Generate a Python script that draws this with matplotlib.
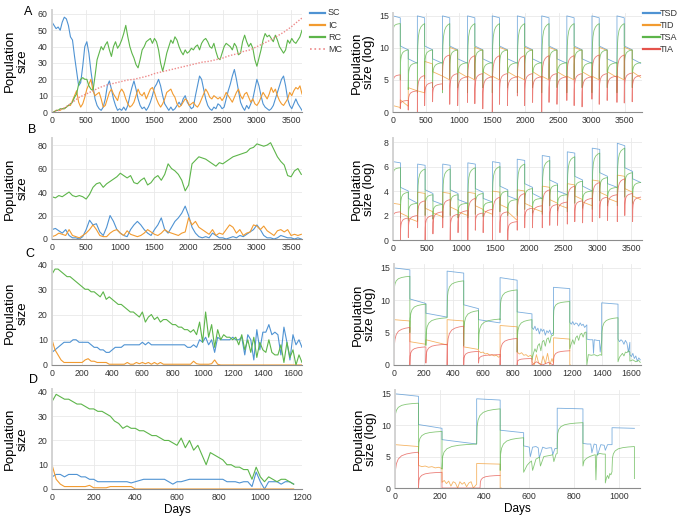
import matplotlib
matplotlib.use("Agg")
from matplotlib import pyplot as plt
from matplotlib.lines import Line2D
import numpy as np

plt.rcParams['font.family'] = ['Liberation Sans', 'DejaVu Sans']

BLUE = '#4f93d3'
ORANGE = '#f29b30'
GREEN = '#5db54a'
RED = '#e5534b'
MC_RED = '#ee8a8a'

# ---------------- left panels: population counts -------------
# panel A, one value every 30 days
A_STEP = 30
A_SC = [55, 53, 51, 52, 50, 55, 58, 57, 53, 46,
        44, 34, 25, 16, 18, 28, 40, 43, 36, 25,
        16, 8, 4, 2, 1, 3, 8, 16, 19, 14,
        8, 4, 1, 2, 1, 3, 1, 4, 10, 15,
        19, 14, 8, 4, 2, 3, 1, 3, 6, 10,
        15, 17, 20, 16, 10, 5, 3, 1, 3, 1,
        2, 4, 6, 4, 8, 10, 6, 4, 2, 3,
        10, 16, 22, 20, 14, 8, 4, 2, 1, 3,
        2, 5, 4, 2, 3, 8, 13, 17, 22, 26,
        20, 13, 6, 3, 1, 4, 2, 5, 8, 14,
        20, 16, 10, 5, 3, 2, 1, 2, 4, 8,
        12, 16, 20, 22, 16, 8, 4, 2, 5, 8,
        5, 3, 1]
A_IC = [0, 0, 1, 1, 1, 2, 2, 3, 4, 4,
        7, 10, 13, 6, 3, 5, 9, 14, 17, 20,
        13, 10, 11, 12, 8, 3, 4, 8, 12, 14,
        11, 9, 7, 12, 14, 12, 8, 5, 3, 4,
        6, 10, 14, 11, 10, 12, 8, 11, 14, 15,
        12, 8, 5, 3, 5, 8, 12, 13, 14, 11,
        9, 5, 3, 4, 6, 8, 7, 4, 5, 6,
        4, 3, 5, 8, 11, 14, 12, 9, 8, 10,
        9, 8, 9, 7, 9, 12, 10, 8, 6, 9,
        12, 14, 10, 8, 11, 12, 9, 6, 8, 5,
        4, 6, 9, 12, 10, 8, 11, 15, 12, 14,
        10, 7, 5, 4, 6, 8, 12, 10, 13, 15,
        14, 16, 11]
A_RC = [0, 0, 1, 1, 2, 2, 2, 3, 4, 5,
        6, 9, 11, 17, 20, 21, 20, 20, 16, 14,
        13, 22, 32, 36, 40, 38, 41, 43, 38, 34,
        40, 43, 39, 41, 44, 48, 53, 46, 40, 36,
        33, 29, 27, 32, 38, 40, 43, 44, 45, 42,
        45, 43, 38, 30, 25, 30, 36, 40, 44, 42,
        46, 44, 40, 37, 35, 38, 36, 37, 39, 38,
        40, 41, 38, 42, 44, 45, 43, 40, 39, 42,
        37, 33, 32, 36, 40, 42, 41, 40, 38, 42,
        40, 35, 36, 43, 47, 43, 40, 42, 39, 32,
        28, 33, 38, 44, 48, 46, 47, 45, 43, 47,
        44, 40, 38, 36, 38, 44, 42, 45, 43, 42,
        44, 46, 50]
A_MC_DAYS = [0, 100, 200, 300, 400, 500, 600, 700, 800, 900, 1000, 1100, 1200,
             1300, 1400, 1500, 1600, 1700, 1800, 1900, 2000, 2100, 2200, 2300,
             2400, 2500, 2600, 2700, 2800, 2900, 3000, 3100, 3200, 3300, 3400,
             3500, 3600, 3660]
A_MC = [0, 1, 3, 6, 9, 11, 13, 15, 16.5, 17.5, 18.5, 19.5, 20, 21, 22, 23.5,
        24.5, 25.5, 26.5, 27.5, 28.5, 29.5, 30.5, 31, 32, 33, 34.5, 35.5, 37,
        38, 40, 42, 44, 46.5, 49, 52, 55.5, 57.5]

# panel B, one value every 50 days
B_STEP = 50
B_SC = [8, 9, 7, 5, 8, 3, 1, 1, 0, 2,
        8, 16, 12, 13, 6, 3, 10, 20, 15, 8,
        5, 3, 2, 8, 12, 15, 12, 8, 5, 3,
        8, 12, 18, 8, 5, 10, 15, 18, 22, 28,
        20, 10, 5, 2, 1, 2, 1, 5, 3, 1,
        1, 0, 1, 2, 1, 3, 2, 4, 6, 8,
        12, 8, 3, 1, 1, 0, 1, 3, 2, 1,
        1, 0, 1, 0]
B_IC = [2, 3, 5, 4, 3, 8, 3, 2, 1, 3,
        5, 8, 12, 8, 3, 2, 2, 5, 7, 8,
        5, 3, 7, 4, 3, 2, 3, 5, 8, 6,
        4, 3, 5, 8, 6, 5, 4, 3, 5, 6,
        18, 12, 15, 10, 8, 6, 4, 8, 3, 5,
        4, 8, 12, 10, 5, 8, 3, 5, 6, 12,
        11, 8, 11, 7, 5, 3, 7, 8, 6, 8,
        3, 4, 3, 4]
B_RC = [36, 35, 37, 36, 38, 40, 37, 36, 37, 36,
        34, 38, 44, 47, 48, 44, 47, 49, 51, 53,
        56, 54, 52, 54, 48, 47, 50, 52, 46, 48,
        52, 54, 50, 55, 64, 60, 58, 55, 50, 41,
        46, 64, 67, 70, 69, 68, 66, 64, 62, 65,
        64, 66, 68, 70, 71, 72, 73, 74, 77, 78,
        81, 80, 79, 80, 82, 76, 70, 66, 63, 54,
        53, 58, 60, 55]

# panels C and D, one value every 20 days
CD_STEP = 20
C_SC = [5, 6, 7, 8, 9, 9, 9, 10, 10, 9,
        9, 9, 9, 8, 7, 7, 6, 6, 5, 5,
        6, 7, 7, 7, 8, 8, 8, 8, 8, 8,
        9, 8, 9, 8, 8, 8, 8, 8, 8, 8,
        8, 8, 8, 8, 8, 7, 7, 8, 7, 10,
        9, 11, 8, 10, 5, 11, 10, 10, 10, 10,
        11, 10, 10, 11, 4, 12, 10, 2, 14, 6,
        13, 13, 16, 12, 13, 12, 4, 15, 9, 2,
        12, 8, 10, 7]
C_IC = [10, 6, 4, 2, 1, 1, 1, 1, 1, 1,
        1, 2, 2.5, 1.5, 1.5, 1, 1, 1, 1, 0.3,
        0.3, 0.3, 0.3, 0.3, 0.3, 1, 0.3, 0.3, 1, 0.5,
        1, 0.5, 1, 0.3, 1, 0.3, 1, 0.3, 0.3, 0.3,
        0.3, 0.3, 0.3, 0.3, 0.3, 0.3, 0.3, 1.5, 0.5, 0.3,
        0.3, 0.3, 0.3, 0.5, 2, 0.3, 0, 0, 0, 0,
        0, 0, 0, 0, 0, 0, 0, 0, 0, 0,
        0, 0, 0, 0, 0, 0, 0, 0, 0, 0,
        0, 0, 0, 0]
C_RC = [36, 38, 38, 37, 36, 35, 35, 34, 33, 32,
        31, 30, 30, 29, 29, 28, 27, 29, 26, 27,
        26, 25, 24, 24, 23, 22, 21, 21, 20, 19,
        21, 17, 19, 20, 18, 19, 17, 18, 18, 17,
        16, 16, 15, 15, 14, 14, 13, 14, 12, 17,
        9, 21, 11, 16, 7, 14, 10, 12, 11, 11,
        10, 11, 8, 12, 6, 10, 5, 11, 3, 9,
        6, 5, 10, 5, 4, 4, 8, 1, 9, 3,
        6, 0, 4, 1]
D_SC = [5, 6, 6, 5, 6, 6, 6, 5, 5, 4,
        4, 3, 3, 3, 3, 3, 3, 3, 3, 2.5,
        3, 3.5, 4, 4, 4, 4, 4, 4, 3, 2,
        3, 3, 3.5, 4, 4, 4, 4, 4, 4, 4,
        4, 4, 3, 3, 3, 2.5, 3, 3, 1, 7,
        3, 0, 3, 3, 3, 2, 3, 3, 2]
D_IC = [10, 4, 2, 1, 1, 1, 1, 1, 1, 1.5,
        0.5, 0.5, 0.5, 0.5, 1, 1, 1, 1, 1, 1,
        0, 0, 0, 0, 0, 0, 0, 0, 0, 0,
        0, 0, 0, 0, 0, 0, 0, 0, 0, 0,
        0, 0, 0, 0, 0, 0, 0, 0, 0, 0,
        0, 0, 0, 0, 0, 0, 0, 0, 0]
D_RC = [36, 39, 38, 37, 37, 36, 35, 35, 34, 33,
        33, 32, 32, 31, 30, 28, 27, 25, 26, 25,
        25, 24, 24, 23, 22, 22, 21, 20, 20, 19,
        18, 21, 17, 20, 16, 18, 14, 10, 15, 14,
        13, 12, 10, 10, 9, 9, 8, 8, 4, 9,
        5, 3, 5, 4, 3, 4, 4, 3, 2]

# ---------------- right panels: log population sizes -------------------------------
# growth curve shape seen in the picture (fraction of the segment, fraction of the rise)
GROW_T = [0, 0.02, 0.06, 0.14, 0.28, 0.48, 0.72, 1.0]
GROW_F = [0, 0.5, 0.68, 0.81, 0.9, 0.95, 0.98, 1.0]

# A and B: ten yearly cycles, three phases each; rows = (start, end) value per phase
A_STARTS = [0, 368, 747, 1126, 1499, 1878, 2246, 2625, 3004, 3382]
A_END = 3740
A_SPLIT = [110, 230]
A_TSD = [[15.0, 14.7, 10.3, 9.7, 8.3, 7.6]] * 10
A_TSA = [[11.5, 13.8, 5.0, 9.7, 3.5, 7.7]] + [[3.0, 13.8, 5.2, 9.7, 3.8, 7.7]] * 9
A_TID = [[1.0, 0.7, 1.9, 0.9, 3.8, 3.3],
         [3.3, 3.0, 7.9, 7.5, 6.3, 5.6]] + [[5.6, 5.0, 10.1, 9.6, 6.3, 5.4]] * 8
A_TIA = [[3.5, 5.8, 0.5, 1.8, 0.3, 3.3],
         [0.0, 5.7, 1.0, 4.6, 1.6, 4.4],
         [3.5, 8.9, 1.2, 6.0, 1.0, 5.5],
         [1.5, 8.8, 1.3, 6.0, 0.5, 5.5],
         [0.0, 8.8, 1.2, 6.0, 1.0, 5.5],
         [2.5, 8.8, 1.0, 6.0, 1.5, 5.5],
         [0.0, 8.8, 1.5, 6.0, 1.2, 5.5],
         [1.8, 8.8, 1.0, 6.0, 0.8, 5.5],
         [2.0, 8.9, 1.2, 6.0, 1.8, 5.6],
         [1.5, 8.9, 1.4, 6.1, 1.6, 5.7]]

B_STARTS = [0, 362, 731, 1100, 1462, 1826, 2194, 2562, 2929, 3297]
B_END = 3640
B_SPLIT = [110, 225]
B_TSD = [[6.4, 6.3, 4.3, 4.0, 3.4, 3.0],
         [6.2, 6.1, 4.1, 3.8, 3.2, 2.9],
         [6.2, 6.1, 4.1, 3.8, 3.3, 3.0],
         [6.3, 6.2, 4.2, 3.9, 3.4, 3.1],
         [6.4, 6.3, 4.4, 4.1, 3.6, 3.3],
         [6.6, 6.5, 4.6, 4.3, 3.8, 3.4],
         [6.9, 6.8, 4.9, 4.6, 4.0, 3.7],
         [7.2, 7.1, 5.2, 4.9, 4.4, 4.0],
         [7.5, 7.4, 5.5, 5.2, 4.6, 4.3],
         [7.9, 7.7, 5.9, 5.6, 5.0, 4.7]]
B_TSA = [[4.8, 5.9, 1.8, 3.9, 1.6, 3.0],
         [1.6, 5.8, 2.0, 3.7, 1.7, 2.9],
         [1.8, 5.8, 2.0, 3.7, 1.8, 3.0],
         [1.8, 5.9, 2.1, 3.8, 1.9, 3.1],
         [1.9, 6.0, 2.3, 4.0, 2.0, 3.3],
         [2.0, 6.2, 2.5, 4.2, 2.2, 3.4],
         [2.1, 6.5, 2.8, 4.5, 2.4, 3.7],
         [2.3, 6.8, 3.0, 4.8, 2.6, 4.0],
         [2.5, 7.1, 3.2, 5.1, 2.8, 4.3],
         [2.8, 7.5, 3.5, 5.5, 3.0, 4.7]]
B_TID = [[3.0, 2.9, 2.2, 1.9, 1.8, 1.5],
         [3.9, 3.8, 2.6, 2.3, 2.2, 1.9],
         [3.9, 3.8, 2.7, 2.4, 2.3, 2.0],
         [3.9, 3.8, 2.8, 2.5, 2.4, 2.1],
         [4.0, 3.9, 2.9, 2.6, 2.3, 1.6],
         [4.1, 4.0, 3.0, 2.7, 2.6, 2.3],
         [4.4, 4.3, 3.3, 3.0, 2.9, 2.6],
         [4.6, 4.5, 3.6, 3.3, 3.1, 2.8],
         [4.9, 4.8, 3.9, 3.6, 3.4, 3.1],
         [5.3, 5.2, 4.2, 3.9, 3.6, 3.3]]
B_TIA = [[1.5, 2.3, 0.0, 1.8, 0.2, 2.0],
         [1.0, 3.2, 0.0, 2.0, 0.5, 2.3],
         [1.0, 3.3, 0.0, 2.1, 0.6, 2.4],
         [0.0, 3.4, 0.8, 2.2, 0.6, 2.5],
         [0.0, 3.5, 0.6, 2.3, 0.0, 1.5],
         [0.8, 3.8, 1.0, 2.6, 1.0, 2.8],
         [1.0, 4.1, 1.2, 2.9, 1.2, 3.1],
         [1.3, 4.4, 1.5, 3.2, 1.4, 3.4],
         [1.5, 4.7, 1.8, 3.5, 1.6, 3.7],
         [1.5, 5.0, 2.0, 3.8, 1.5, 3.5]]

# C and D: irregular phases. 'L' straight, 'G' growth curve, 'P' explicit points
C_TSD = [('L', 0, 107, 15.0, 14.7), ('L', 107, 215, 10.2, 9.5), ('L', 215, 358, 8.0, 7.4),
         ('L', 358, 470, 14.5, 14.2), ('L', 470, 570, 9.3, 8.7), ('L', 570, 715, 7.0, 6.5),
         ('L', 715, 830, 13.5, 13.1), ('L', 830, 930, 8.2, 7.9),
         ('P', [930, 940, 950, 960, 970, 980, 990, 1000, 1010, 1020, 1030, 1040, 1050, 1060, 1075],
               [5.8, 5.5, 6.0, 5.3, 5.7, 4.8, 5.6, 5.2, 5.5, 4.6, 5.3, 5.0, 5.4, 4.7, 5.0]),
         ('L', 1075, 1185, 12.0, 11.8),
         ('P', [1185, 1195, 1205, 1215, 1225, 1235, 1245, 1255, 1265, 1275, 1285, 1300],
               [6.6, 6.3, 6.7, 6.2, 6.5, 6.4, 6.0, 6.5, 6.1, 6.3, 5.8, 6.2]),
         ('P', [1300, 1320, 1340, 1345, 1350, 1370, 1385, 1390, 1400],
               [4.0, 3.9, 3.9, 1.8, 3.9, 3.8, 3.8, 2.0, 3.8]),
         ('L', 1400, 1510, 9.6, 9.4),
         ('P', [1510, 1520, 1530, 1540, 1550, 1560, 1570, 1580, 1590],
               [4.0, 3.6, 3.9, 3.7, 3.2, 3.8, 3.4, 2.0, 3.5]),
         ('P', [1590, 1600, 1610, 1620, 1630, 1640, 1650, 1660],
               [1.6, 1.3, 1.8, 1.0, 1.4, 0.6, 1.1, 0.8])]
C_TID = [('L', 0, 107, 7.0, 6.8), ('L', 107, 215, 3.6, 3.2), ('L', 215, 358, 3.9, 3.1),
         ('L', 358, 470, 7.0, 6.8), ('L', 470, 570, 2.8, 2.4),
         ('P', [570, 585, 600, 615, 630, 645, 660, 675, 690, 705, 715],
               [2.2, 1.9, 2.0, 1.7, 1.8, 1.5, 1.6, 1.4, 1.5, 1.2, 1.3]),
         ('L', 715, 830, 6.1, 5.9),
         ('P', [830, 845, 860, 875, 890, 905, 920, 930],
               [2.0, 1.7, 1.9, 1.5, 1.6, 1.3, 1.5, 1.2]),
         ('P', [930, 945, 960, 975, 990, 1005, 1020, 1035, 1050, 1065, 1075],
               [0.5, 0.0, 1.6, 0.3, 0.0, 1.4, 0.2, 1.8, 0.0, 1.0, 0.3]),
         ('L', 1075, 1185, 4.2, 4.0), ('L', 1185, 1190, 0.0, 0.0)]
C_TSA = [('G', 0, 107, 10.0, 13.7), ('G', 107, 215, 5.0, 9.4), ('G', 215, 358, 3.0, 7.3),
         ('G', 358, 470, 8.0, 13.0), ('G', 470, 570, 3.0, 8.4), ('G', 570, 715, 2.5, 7.1),
         ('G', 715, 830, 7.0, 11.6), ('G', 830, 930, 2.0, 7.0),
         ('P', [930, 940, 950, 960, 970, 980, 990, 1000, 1010, 1020, 1030, 1040, 1050, 1060, 1075],
               [0.8, 1.8, 2.5, 2.0, 3.0, 3.3, 2.2, 3.6, 3.8, 2.9, 4.0, 4.2, 3.4, 4.5, 4.6]),
         ('G', 1075, 1185, 7.0, 9.8),
         ('P', [1185, 1195, 1205, 1215, 1225, 1235, 1245, 1255, 1265, 1275, 1285, 1295],
               [2.5, 3.3, 3.9, 3.2, 4.2, 4.5, 3.8, 4.7, 4.9, 4.3, 5.0, 5.1]),
         ('P', [1300, 1310, 1330, 1350, 1370, 1390, 1400],
               [0.0, 1.6, 1.5, 1.6, 1.4, 1.6, 1.5]),
         ('G', 1400, 1510, 3.0, 7.3),
         ('P', [1510, 1520, 1530, 1540, 1550, 1560, 1570, 1580, 1590],
               [0.5, 1.2, 1.5, 1.8, 1.4, 2.0, 1.9, 2.2, 2.0]),
         ('P', [1590, 1610, 1630, 1650, 1660], [0.6, 0.8, 0.5, 0.7, 0.4])]
C_TIA = [('G', 0, 107, 0.0, 5.8), ('G', 107, 215, 0.0, 2.8), ('G', 215, 358, 0.3, 3.2),
         ('G', 358, 470, 0.0, 6.0), ('G', 470, 570, 0.0, 2.1), ('G', 570, 715, 0.3, 1.6),
         ('G', 715, 830, 0.0, 4.1), ('G', 830, 930, 0.0, 1.0),
         ('P', [930, 960, 1000, 1040, 1075], [0.0, 0.5, 0.0, 0.4, 0.0]),
         ('G', 1075, 1185, 0.0, 2.2)]

D_TSD = [('L', 0, 105, 15.0, 14.6), ('L', 105, 210, 10.1, 9.5), ('L', 210, 365, 7.7, 7.0),
         ('L', 365, 470, 14.2, 14.0), ('L', 470, 575, 9.2, 8.8),
         ('P', [575, 590, 600, 605, 615, 630, 640, 645, 660, 675, 690, 700, 705, 715, 725],
               [6.7, 6.6, 6.5, 5.0, 6.5, 6.6, 6.4, 4.8, 6.5, 6.3, 6.4, 6.4, 5.3, 6.3, 6.3]),
         ('L', 725, 840, 12.7, 12.6),
         ('P', [840, 860, 875, 880, 890, 900, 905, 920, 935, 940, 950, 970],
               [7.1, 7.0, 7.0, 5.6, 7.0, 6.9, 5.2, 6.9, 6.8, 6.0, 6.9, 6.9]),
         ('L', 970, 1070, 9.6, 9.5)]
D_TID = [('L', 0, 105, 6.9, 6.6),
         ('P', [105, 120, 135, 150, 165, 180, 195, 210],
               [3.6, 3.4, 3.5, 3.3, 3.4, 3.2, 3.3, 3.1]),
         ('P', [210, 220, 230, 240, 250, 260, 270, 280, 290, 300, 310, 320, 330, 340, 350, 365],
               [0.9, 1.2, 0.7, 1.1, 0.3, 1.0, 0.8, 0.0, 1.0, 0.6, 0.9, 0.2, 0.8, 1.0, 0.0, 0.6]),
         ('L', 365, 470, 3.9, 3.8), ('L', 470, 475, 0.0, 0.0)]
D_TSA = [('G', 0, 105, 10.0, 13.5), ('G', 105, 210, 5.5, 9.0), ('G', 210, 365, 3.0, 7.0),
         ('G', 365, 470, 7.0, 12.6), ('G', 470, 575, 2.8, 8.0),
         ('P', [575, 590, 600, 610, 615, 630, 645, 650, 665, 680, 695, 705, 710, 720, 725],
               [2.5, 3.6, 4.0, 4.3, 2.8, 4.6, 4.9, 3.5, 5.0, 5.1, 5.2, 5.3, 4.2, 5.4, 5.5]),
         ('G', 725, 840, 7.0, 10.4),
         ('P', [840, 845, 855, 870, 885, 895, 898, 902, 915, 930, 940],
               [3.5, 4.3, 4.7, 5.0, 5.2, 5.3, 1.3, 5.3, 5.5, 5.4, 5.4]),
         ('P', [940, 945, 950, 955, 960, 965, 970], [0.8, 1.6, 2.0, 1.5, 2.3, 2.1, 2.6]),
         ('G', 970, 1070, 3.0, 6.6), ('P', [1070], [1.5])]
D_TIA = [('G', 0, 105, 0.0, 5.7), ('G', 105, 210, 0.0, 2.5), ('L', 210, 380, 0.0, 0.0),
         ('G', 380, 470, 0.0, 2.0)]


def build(pieces):
    xs, ys = [], []
    for p in pieces:
        if p[0] == 'P':
            xs += list(p[1])
            ys += list(p[2])
        elif p[0] == 'L':
            xs += [p[1], p[2]]
            ys += [p[3], p[4]]
        else:
            xs += [p[1] + (p[2] - p[1]) * t for t in GROW_T]
            ys += [p[3] + (p[4] - p[3]) * f for f in GROW_F]
    return xs, ys


def cycles(starts, end, split, rows, kind):
    pieces = []
    ends = list(starts[1:]) + [end]
    for s, e, r in zip(starts, ends, rows):
        m1, m2 = s + split[0], s + split[1]
        pieces += [(kind, s, m1, r[0], r[1]), (kind, m1, m2, r[2], r[3]), (kind, m2, e, r[4], r[5])]
    return pieces


# ---------------- figure -----------------------------------------------------------
W, H = 684, 519
fig = plt.figure(figsize=(W / 100, H / 100), dpi=100)


def add_ax(x0, x1, top, bottom):
    return fig.add_axes([x0 / W, 1 - bottom / H, (x1 - x0) / W, (bottom - top) / H])


def style(ax, xlim, xticks, ylim, yticks, ylabel, lab_x):
    ax.set_xlim(*xlim)
    ax.set_ylim(*ylim)
    ax.set_xticks(xticks)
    ax.set_yticks(yticks)
    ax.grid(True, color='#e9e9e9', lw=0.6)
    ax.set_axisbelow(True)
    for s in ['top', 'right']:
        ax.spines[s].set_visible(False)
    ax.spines['left'].set_color('#d3d3d3')
    ax.spines['left'].set_linewidth(1.4)
    ax.spines['bottom'].set_color('#8c8c8c')
    ax.spines['bottom'].set_linewidth(0.8)
    ax.tick_params(length=0, labelsize=6.3, colors='#333333', pad=3)
    ax.set_ylabel(ylabel, fontsize=9.5, linespacing=1.0)
    ax.yaxis.set_label_coords(lab_x, 0.5)


LW = 0.8
LW_R = 0.6
AL_R = 0.75

# --- A left
ax = add_ax(52, 302, 10, 112)
ax.plot(np.arange(len(A_SC)) * A_STEP, A_SC, color=BLUE, lw=LW)
ax.plot(np.arange(len(A_IC)) * A_STEP, A_IC, color=ORANGE, lw=LW)
ax.plot(np.arange(len(A_RC)) * A_STEP, A_RC, color=GREEN, lw=LW)
ax.plot(A_MC_DAYS, A_MC, color=MC_RED, lw=1.0, ls=(0, (1, 1.2)))
style(ax, (0, 3660), range(0, 3501, 500), (0, 62.4), range(0, 61, 10), 'Population\nsize', -0.095)

# --- A right
ax = add_ax(393, 642, 13, 112)
for rows, kind, col in [(A_TSD, 'L', BLUE), (A_TID, 'L', ORANGE), (A_TSA, 'G', GREEN), (A_TIA, 'G', RED)]:
    xs, ys = build(cycles(A_STARTS, A_END, A_SPLIT, rows, kind))
    ax.plot(xs, ys, color=col, lw=LW_R, alpha=AL_R)
style(ax, (0, 3760), range(0, 3501, 500), (0, 15.45), [0, 5, 10, 15], 'Population\nsize (log)', -0.072)

# --- B left
ax = add_ax(52, 302, 138, 239)
ax.plot(np.arange(len(B_SC)) * B_STEP, B_SC, color=BLUE, lw=LW)
ax.plot(np.arange(len(B_IC)) * B_STEP, B_IC, color=ORANGE, lw=LW)
ax.plot(np.arange(len(B_RC)) * B_STEP, B_RC, color=GREEN, lw=LW)
style(ax, (0, 3660), range(0, 3501, 500), (0, 86), range(0, 81, 20), 'Population\nsize', -0.095)

# --- B right
ax = add_ax(393, 642, 138, 240)
for rows, kind, col in [(B_TSD, 'L', BLUE), (B_TID, 'L', ORANGE), (B_TSA, 'G', GREEN), (B_TIA, 'G', RED)]:
    xs, ys = build(cycles(B_STARTS, B_END, B_SPLIT, rows, kind))
    ax.plot(xs, ys, color=col, lw=LW_R, alpha=AL_R)
style(ax, (0, 3660), range(0, 3501, 500), (0, 8.33), range(0, 9, 2), 'Population\nsize (log)', -0.072)

# --- C left
ax = add_ax(52, 302, 261, 365)
ax.plot(np.arange(len(C_SC)) * CD_STEP, C_SC, color=BLUE, lw=LW)
ax.plot(np.arange(len(C_IC)) * CD_STEP, C_IC, color=ORANGE, lw=LW)
ax.plot(np.arange(len(C_RC)) * CD_STEP, C_RC, color=GREEN, lw=LW)
style(ax, (0, 1660), range(0, 1601, 200), (0, 41.2), range(0, 41, 10), 'Population\nsize', -0.095)

# --- C right
ax = add_ax(394, 641, 264, 365)
for pieces, col in [(C_TSD, BLUE), (C_TID, ORANGE), (C_TSA, GREEN), (C_TIA, RED)]:
    xs, ys = build(pieces)
    ax.plot(xs, ys, color=col, lw=LW_R, alpha=AL_R)
style(ax, (0, 1665), range(0, 1601, 200), (0, 15.6), [0, 5, 10, 15], 'Population\nsize (log)', -0.072)

# --- D left
ax = add_ax(52, 302, 389, 489)
ax.plot(np.arange(len(D_SC)) * CD_STEP, D_SC, color=BLUE, lw=LW)
ax.plot(np.arange(len(D_IC)) * CD_STEP, D_IC, color=ORANGE, lw=LW)
ax.plot(np.arange(len(D_RC)) * CD_STEP, D_RC, color=GREEN, lw=LW)
style(ax, (0, 1200), range(0, 1201, 200), (0, 41.2), range(0, 41, 10), 'Population\nsize', -0.095)
ax.set_xlabel('Days', fontsize=8.5, labelpad=1)

# --- D right
ax = add_ax(395, 640, 390, 488)
for pieces, col in [(D_TSD, BLUE), (D_TID, ORANGE), (D_TSA, GREEN), (D_TIA, RED)]:
    xs, ys = build(pieces)
    ax.plot(xs, ys, color=col, lw=LW_R, alpha=AL_R)
style(ax, (0, 1095), range(0, 1001, 200), (0, 15.6), [0, 5, 10, 15], 'Population\nsize (log)', -0.072)
ax.set_xlabel('Days', fontsize=8.5, labelpad=1)

# --- panel letters
for letter, px, py in [('A', 28, 12), ('B', 32, 130), ('C', 30, 254), ('D', 33, 380)]:
    fig.text(px / W, 1 - py / H, letter, fontsize=9, ha='center', va='center')

# --- legends drawn by hand, as in the picture
def legend(items, lx0, lx1, tx, ys):
    for (lab, col, ls), py in zip(items, ys):
        fig.add_artist(Line2D([lx0 / W, lx1 / W], [1 - py / H, 1 - py / H], color=col,
                              lw=1.6 if ls == '-' else 1.2, ls=ls, transform=fig.transFigure))
        fig.text(tx / W, 1 - py / H, lab, fontsize=6.5, ha='left', va='center', color='#333333')


legend([('SC', BLUE, '-'), ('IC', ORANGE, '-'), ('RC', GREEN, '-'), ('MC', MC_RED, ':')],
       310, 325, 328, [12.5, 25, 37, 49])
legend([('TSD', BLUE, '-'), ('TID', ORANGE, '-'), ('TSA', GREEN, '-'), ('TIA', RED, '-')],
       643, 660, 660, [13, 25, 37, 49])

fig.savefig('out.png', dpi=100)
